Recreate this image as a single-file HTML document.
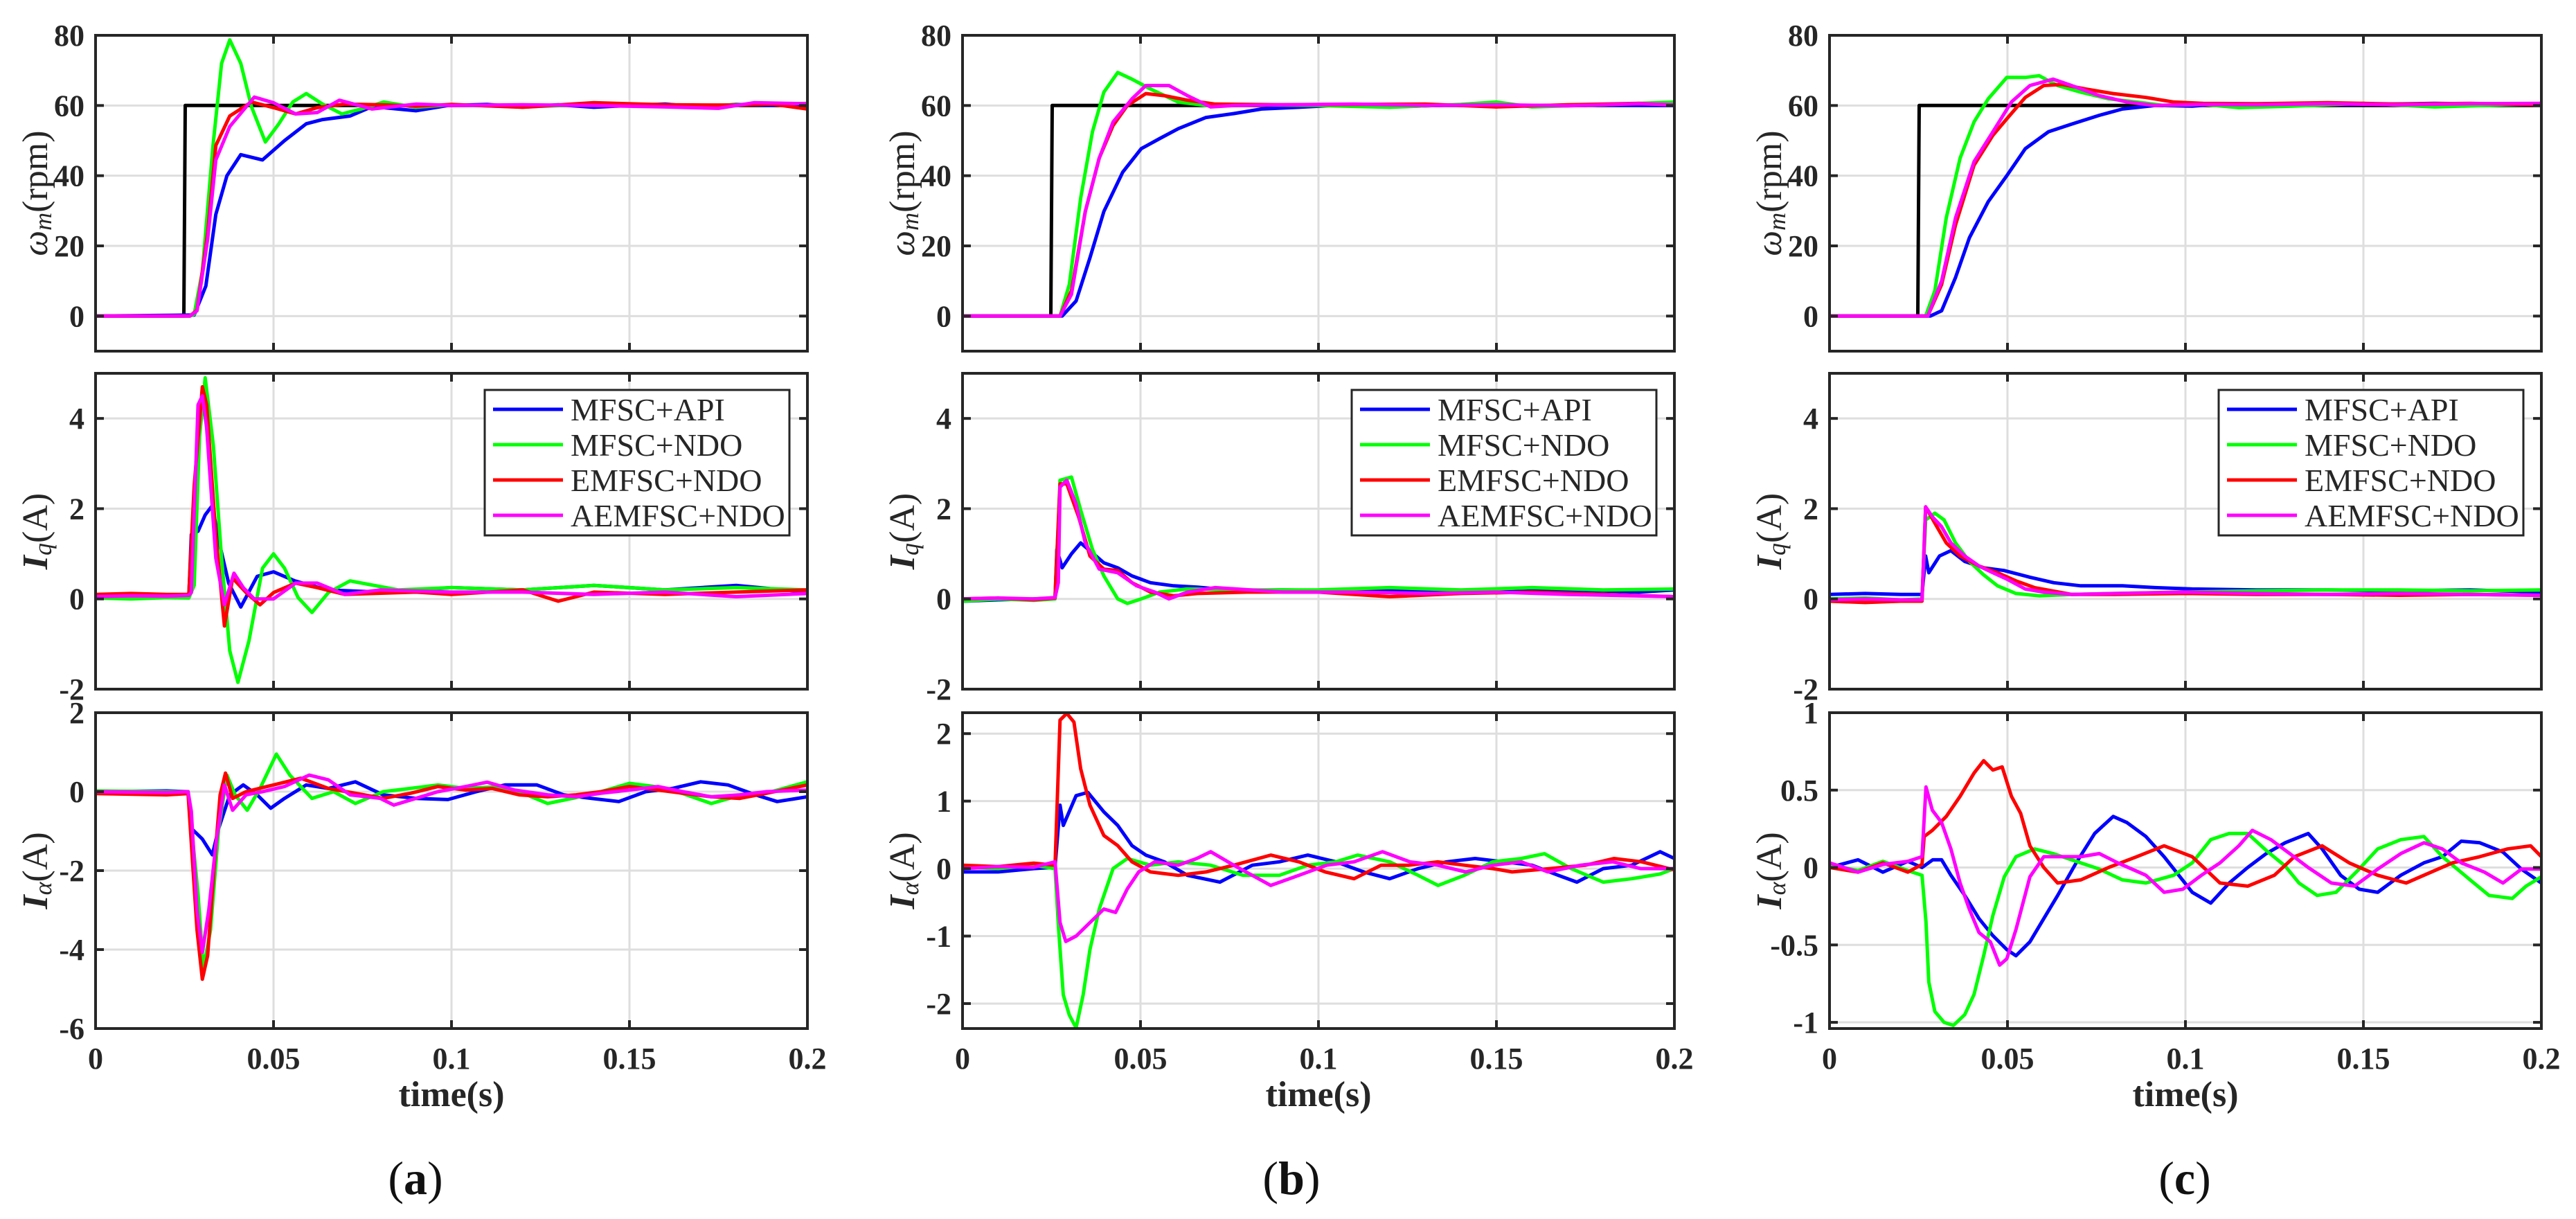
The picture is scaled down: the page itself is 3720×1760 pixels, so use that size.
<!DOCTYPE html>
<html><head><meta charset="utf-8"><style>
html,body{margin:0;padding:0;background:#fff;}
svg{display:block;}
</style></head><body>
<svg id="fig" xmlns="http://www.w3.org/2000/svg" width="3720" height="1760" viewBox="0 0 3720 1760"></svg>
<script>
// ===== DATA =====
const panelLetters = ["a","b","c"];
const xTicks = [0,0.05,0.1,0.15,0.2];
const xTickLabels = ["0","0.05","0.1","0.15","0.2"];
const seriesNames = ["MFSC+API","MFSC+NDO","EMFSC+NDO","AEMFSC+NDO"];
const speedTicks = [0,20,40,60,80];
const iqTicks = [-2,0,2,4];
const iaTicksA = [-6,-4,-2,0,2];
const iaTicksB = [-2,-1,0,1,2];
const iaTicksC = [-1,-0.5,0,0.5,1];
const refSpeed = [[0,0],[0.0248,0],[0.0252,60],[0.2,60]];

// panel (a) speed
const aSpeedBlue = [[0,0],[0.0277,0.3],[0.031,8.6],[0.0338,29],[0.0369,40],[0.0408,46],[0.0469,44.5],[0.0531,50],[0.0592,54.8],[0.0638,56],[0.0715,57],[0.0777,59.7],[0.09,58.5],[0.099,60],[0.11,60.3],[0.12,59.6],[0.13,60.2],[0.14,59.5],[0.15,60],[0.16,60.4],[0.17,59.6],[0.18,60.3],[0.19,60.1],[0.2,60.5]];
const aSpeedGreen = [[0,0],[0.0265,0],[0.0277,0.5],[0.03,12.7],[0.033,48.6],[0.0354,72],[0.0377,78.7],[0.0408,72],[0.0438,59.7],[0.0477,49.6],[0.0515,54.8],[0.0554,61],[0.0592,63.4],[0.0638,60.4],[0.0692,57.6],[0.0746,59],[0.081,61],[0.09,59.5],[0.1,60.2],[0.12,59.6],[0.14,60.3],[0.16,59.7],[0.18,60.2],[0.2,60.6]];
const aSpeedRed = [[0,0],[0.0265,0],[0.0285,1.7],[0.0315,23.8],[0.0338,48.6],[0.0377,57],[0.0438,61],[0.05,59.4],[0.0562,57.6],[0.0623,59.4],[0.07,60.4],[0.08,60.2],[0.09,59.8],[0.1,60.3],[0.12,59.5],[0.14,60.8],[0.16,60.2],[0.18,60.1],[0.19,60.4],[0.2,59]];
const aSpeedMag = [[0,0],[0.0265,0],[0.0285,1.5],[0.0315,22],[0.0338,44.5],[0.0377,54],[0.0446,62.4],[0.05,60.8],[0.0562,57.6],[0.0623,58],[0.0685,61.5],[0.0777,59],[0.09,60.4],[0.1,60],[0.12,60.2],[0.14,60],[0.16,59.6],[0.175,59.2],[0.185,60.8],[0.2,60.5]];
// panel (a) Iq
const aIqBlue = [[0,0.05],[0.01,0.1],[0.02,0.05],[0.0262,0.05],[0.0269,1.43],[0.0288,1.5],[0.0308,1.86],[0.0328,2.07],[0.0346,1.3],[0.0374,0.35],[0.0408,-0.18],[0.0454,0.5],[0.05,0.6],[0.056,0.4],[0.065,0.2],[0.08,0.15],[0.1,0.25],[0.12,0.2],[0.14,0.3],[0.16,0.2],[0.18,0.3],[0.2,0.15]];
const aIqGreen = [[0,0.02],[0.01,0],[0.02,0.03],[0.0262,0.02],[0.0277,0.3],[0.0292,3.6],[0.0308,4.9],[0.0331,3.4],[0.0354,0.9],[0.0377,-1.15],[0.04,-1.85],[0.0431,-0.93],[0.0469,0.68],[0.05,1.0],[0.0531,0.68],[0.0569,0.03],[0.0608,-0.3],[0.0654,0.14],[0.0715,0.4],[0.085,0.2],[0.1,0.25],[0.12,0.2],[0.14,0.3],[0.16,0.2],[0.18,0.25],[0.2,0.2]];
const aIqRed = [[0,0.1],[0.01,0.12],[0.02,0.1],[0.0262,0.1],[0.0277,2.5],[0.03,4.7],[0.0312,4.3],[0.0338,1.4],[0.0362,-0.6],[0.0385,0.46],[0.0423,0.14],[0.0462,-0.13],[0.05,0.14],[0.0562,0.35],[0.0623,0.25],[0.07,0.1],[0.09,0.15],[0.1,0.1],[0.12,0.2],[0.13,-0.05],[0.14,0.15],[0.16,0.1],[0.18,0.15],[0.2,0.2]];
const aIqMag = [[0,0.05],[0.01,0.07],[0.02,0.06],[0.0262,0.08],[0.0269,0.14],[0.0288,4.3],[0.03,4.5],[0.0312,3.8],[0.0338,0.9],[0.0362,-0.13],[0.0389,0.57],[0.0415,0.25],[0.0446,0],[0.05,0],[0.0562,0.35],[0.0623,0.35],[0.07,0.1],[0.08,0.2],[0.1,0.15],[0.12,0.15],[0.14,0.1],[0.16,0.15],[0.18,0.05],[0.2,0.12]];
// panel (a) Ia
const aIaBlue = [[0,0],[0.02,0.02],[0.026,0],[0.0269,-0.93],[0.03,-1.2],[0.0328,-1.6],[0.0346,-0.93],[0.0377,-0.08],[0.0415,0.17],[0.0454,-0.08],[0.0492,-0.42],[0.0531,-0.17],[0.0592,0.17],[0.0654,0.08],[0.073,0.25],[0.0808,-0.08],[0.09,-0.17],[0.099,-0.2],[0.107,0],[0.115,0.17],[0.124,0.17],[0.1315,-0.08],[0.1392,-0.17],[0.147,-0.25],[0.1546,0],[0.162,0.08],[0.17,0.25],[0.1777,0.17],[0.1854,-0.08],[0.1915,-0.25],[0.2,-0.13]];
const aIaGreen = [[0,0.02],[0.02,0],[0.026,0],[0.0288,-2.6],[0.0303,-4.5],[0.0323,-3.5],[0.0346,-0.93],[0.0369,0.42],[0.0392,-0.08],[0.0426,-0.47],[0.0462,0.08],[0.0508,0.95],[0.0546,0.42],[0.0608,-0.17],[0.0669,0],[0.073,-0.3],[0.0808,0],[0.09,0.1],[0.0962,0.17],[0.104,0.08],[0.112,0.12],[0.119,0],[0.127,-0.3],[0.135,-0.15],[0.142,0],[0.15,0.21],[0.158,0.12],[0.165,-0.05],[0.173,-0.3],[0.18,-0.12],[0.188,-0.05],[0.2,0.25]];
const aIaRed = [[0,-0.05],[0.02,-0.08],[0.026,-0.05],[0.0285,-3.5],[0.03,-4.75],[0.0315,-4.15],[0.0334,-1.8],[0.035,-0.08],[0.0365,0.47],[0.0385,-0.17],[0.0423,0],[0.05,0.17],[0.0577,0.34],[0.0654,0.08],[0.073,-0.04],[0.0808,-0.17],[0.0885,-0.04],[0.0962,0.13],[0.104,0.04],[0.1115,0.08],[0.119,-0.08],[0.127,-0.13],[0.135,-0.08],[0.142,0],[0.15,0.13],[0.158,0.04],[0.165,-0.04],[0.173,-0.13],[0.181,-0.17],[0.1885,-0.04],[0.2,0.17]];
const aIaMag = [[0,0],[0.02,-0.02],[0.026,0],[0.0269,-0.5],[0.0285,-3],[0.03,-4.07],[0.0318,-3],[0.0338,-1.35],[0.0362,0.17],[0.0385,-0.47],[0.0423,-0.08],[0.0469,0],[0.0531,0.13],[0.06,0.42],[0.0654,0.3],[0.0715,-0.08],[0.08,-0.17],[0.0838,-0.34],[0.09,-0.17],[0.0962,0],[0.104,0.13],[0.11,0.24],[0.1177,0.04],[0.127,-0.08],[0.135,-0.13],[0.142,-0.04],[0.15,0.04],[0.158,0.13],[0.165,0],[0.173,-0.13],[0.181,-0.08],[0.1885,0],[0.2,0.04]];

// panel (b) speed
const bSpeedBlue = [[0,0],[0.0280,0],[0.0319,4.3],[0.0358,16.6],[0.0397,29.8],[0.045,41],[0.0502,47.7],[0.0554,50.6],[0.0606,53.4],[0.0684,56.6],[0.0762,57.7],[0.084,59],[0.0945,59.5],[0.104,60],[0.12,59.6],[0.14,60.2],[0.16,59.8],[0.18,60.1],[0.2,60]];
const bSpeedGreen = [[0,0],[0.0274,0],[0.03,9],[0.0332,33.6],[0.0365,52.5],[0.0397,63.8],[0.0436,69.4],[0.0476,67.5],[0.0528,64.7],[0.0606,61],[0.0684,60],[0.08,60.2],[0.1,60],[0.12,59.5],[0.14,60.3],[0.15,61],[0.16,59.6],[0.18,60.2],[0.2,61]];
const bSpeedRed = [[0,0],[0.0274,0],[0.0306,7.2],[0.0345,29.8],[0.0384,45],[0.0423,54.3],[0.0463,60],[0.0515,63.4],[0.0567,62.8],[0.0632,61.5],[0.0710,60.4],[0.09,60.2],[0.11,60.3],[0.13,60.4],[0.15,59.6],[0.17,60.2],[0.19,60.6],[0.2,60.1]];
const bSpeedMag = [[0,0],[0.0274,0],[0.0306,6.2],[0.0345,29.8],[0.0384,45],[0.0423,55.3],[0.0476,61.9],[0.0515,65.7],[0.058,65.7],[0.0632,62.8],[0.0697,59.6],[0.0762,60],[0.09,60.2],[0.11,60.4],[0.13,60],[0.15,60.2],[0.17,59.9],[0.19,60.5],[0.2,60.2]];
// panel (b) Iq
const bIqBlue = [[0,-0.05],[0.01,-0.02],[0.02,0],[0.026,0.02],[0.0265,1.1],[0.028,0.69],[0.0306,1.0],[0.0332,1.24],[0.0365,1.02],[0.0397,0.8],[0.0436,0.69],[0.0476,0.51],[0.0528,0.36],[0.0593,0.29],[0.066,0.26],[0.076,0.19],[0.09,0.2],[0.11,0.18],[0.13,0.2],[0.15,0.15],[0.17,0.2],[0.19,0.15],[0.2,0.2]];
const bIqGreen = [[0,-0.05],[0.01,0],[0.02,-0.03],[0.026,0],[0.0274,2.63],[0.0306,2.7],[0.0332,1.97],[0.0365,1.1],[0.0397,0.51],[0.0436,0],[0.0463,-0.1],[0.0502,0],[0.0554,0.15],[0.063,0.22],[0.08,0.2],[0.1,0.2],[0.12,0.25],[0.14,0.2],[0.16,0.25],[0.18,0.2],[0.2,0.22]];
const bIqRed = [[0,0],[0.01,0.02],[0.02,-0.02],[0.026,0.02],[0.0274,2.55],[0.0293,2.55],[0.0326,1.82],[0.0358,0.95],[0.0397,0.66],[0.0436,0.63],[0.0476,0.36],[0.0528,0.15],[0.0593,0.07],[0.066,0.12],[0.08,0.15],[0.1,0.15],[0.12,0.05],[0.14,0.12],[0.16,0.15],[0.18,0.1],[0.2,0.05]];
const bIqMag = [[0,0],[0.01,0.02],[0.02,0],[0.026,0.03],[0.0269,0.36],[0.0274,2.48],[0.0293,2.63],[0.0319,2.1],[0.0345,1.24],[0.0384,0.66],[0.0436,0.58],[0.0489,0.29],[0.054,0.15],[0.058,0],[0.0632,0.15],[0.0710,0.25],[0.09,0.15],[0.11,0.15],[0.13,0.12],[0.15,0.15],[0.17,0.1],[0.2,0.05]];
// panel (b) Ia
const bIaBlue = [[0,-0.05],[0.01,-0.05],[0.02,0],[0.026,0.02],[0.0274,0.94],[0.0283,0.64],[0.0319,1.08],[0.0352,1.13],[0.0397,0.84],[0.0436,0.64],[0.0476,0.34],[0.0515,0.2],[0.0567,0.1],[0.0632,-0.1],[0.0723,-0.2],[0.0814,0.05],[0.089,0.1],[0.097,0.2],[0.1049,0.1],[0.1127,-0.05],[0.12,-0.15],[0.128,0],[0.136,0.1],[0.1440,0.15],[0.152,0.1],[0.16,0.05],[0.1674,-0.1],[0.1726,-0.2],[0.18,0],[0.188,0.05],[0.196,0.25],[0.2,0.15]];
const bIaGreen = [[0,0.02],[0.01,0],[0.02,0.05],[0.026,0],[0.027,-0.9],[0.0283,-1.87],[0.03,-2.17],[0.0319,-2.36],[0.0339,-1.87],[0.0358,-1.2],[0.0384,-0.6],[0.0423,0],[0.0463,0.15],[0.0528,0.05],[0.0606,0.1],[0.0697,0.05],[0.0788,-0.1],[0.089,-0.1],[0.097,0.05],[0.1049,0.1],[0.111,0.2],[0.12,0.1],[0.128,-0.1],[0.1336,-0.25],[0.141,-0.1],[0.149,0.1],[0.157,0.15],[0.1635,0.22],[0.171,0],[0.18,-0.2],[0.188,-0.15],[0.196,-0.08],[0.2,0]];
const bIaRed = [[0,0.05],[0.01,0.03],[0.02,0.08],[0.026,0.05],[0.0274,2.2],[0.0293,2.3],[0.0313,2.17],[0.0332,1.48],[0.0358,0.94],[0.0397,0.49],[0.0436,0.34],[0.0476,0.1],[0.0528,-0.05],[0.0606,-0.1],[0.0684,-0.05],[0.0762,0.05],[0.0866,0.2],[0.0945,0.1],[0.1019,-0.05],[0.11,-0.15],[0.1176,0.05],[0.1254,0.05],[0.1335,0.1],[0.141,0.05],[0.149,0],[0.1544,-0.05],[0.165,0],[0.175,0.05],[0.183,0.15],[0.1908,0.1],[0.2,-0.02]];
const bIaMag = [[0,0],[0.01,0.03],[0.02,0.02],[0.026,0.1],[0.0274,-0.8],[0.029,-1.08],[0.0319,-1.0],[0.0358,-0.8],[0.0397,-0.6],[0.043,-0.65],[0.0463,-0.3],[0.0495,-0.05],[0.054,0.1],[0.0606,0.05],[0.0658,0.15],[0.0697,0.25],[0.0762,0.05],[0.0814,-0.1],[0.0866,-0.25],[0.0945,-0.1],[0.1023,0.05],[0.11,0.1],[0.118,0.25],[0.1257,0.1],[0.1335,0.05],[0.1414,-0.05],[0.149,0.05],[0.157,0.1],[0.1645,-0.05],[0.1736,0.05],[0.1827,0.1],[0.1905,0],[0.2,0]];

// panel (c) speed
const cSpeedBlue = [[0,0],[0.0283,0],[0.0315,1.5],[0.0354,11],[0.0393,22.3],[0.0446,32.6],[0.0498,40],[0.055,47.7],[0.0615,52.5],[0.068,54.7],[0.0758,57.2],[0.0823,59],[0.0915,60],[0.1019,59.8],[0.11,60.5],[0.13,60.2],[0.15,60.3],[0.17,60.6],[0.19,60.4],[0.2,60.2]];
const cSpeedGreen = [[0,0],[0.0270,0],[0.0296,7.2],[0.0328,28],[0.0367,45],[0.0406,55.3],[0.0446,61.9],[0.0498,68],[0.055,68],[0.0589,68.5],[0.0641,65.7],[0.0706,63.8],[0.0784,61.9],[0.0863,61],[0.094,60],[0.105,60.3],[0.115,59.4],[0.13,59.8],[0.15,60.6],[0.17,59.6],[0.19,60.2],[0.2,60.4]];
const cSpeedRed = [[0,0],[0.0276,0],[0.0315,9],[0.0354,26],[0.0406,43],[0.0459,51.5],[0.0498,56.2],[0.055,62.3],[0.0602,65.7],[0.0654,66],[0.0719,64.7],[0.0797,63.4],[0.0889,62.3],[0.0967,61],[0.105,60.6],[0.12,60.5],[0.14,60.8],[0.16,60.4],[0.18,60.6],[0.2,60.2]];
const cSpeedMag = [[0,0],[0.0276,0],[0.0315,10],[0.0354,28],[0.0406,44],[0.0459,52.5],[0.0511,61],[0.0563,65.7],[0.0628,67.5],[0.068,65.7],[0.0758,62.8],[0.0836,61],[0.0915,60],[0.105,60.3],[0.12,60.2],[0.14,60.5],[0.16,60.2],[0.18,60.5],[0.2,60.6]];
// panel (c) Iq
const cIqBlue = [[0,0.1],[0.01,0.12],[0.02,0.1],[0.026,0.1],[0.027,0.95],[0.0279,0.58],[0.0309,0.95],[0.0341,1.07],[0.038,0.83],[0.0433,0.69],[0.049,0.63],[0.0563,0.48],[0.063,0.36],[0.0706,0.29],[0.0823,0.29],[0.0915,0.25],[0.1019,0.22],[0.12,0.2],[0.14,0.2],[0.16,0.18],[0.18,0.2],[0.2,0.15]];
const cIqGreen = [[0,0],[0.01,0.02],[0.02,-0.02],[0.026,0],[0.027,1.75],[0.0296,1.9],[0.0322,1.75],[0.0354,1.24],[0.0393,0.83],[0.0432,0.54],[0.0472,0.29],[0.0524,0.12],[0.059,0.07],[0.068,0.1],[0.08,0.12],[0.1,0.15],[0.12,0.18],[0.14,0.2],[0.16,0.2],[0.18,0.18],[0.2,0.2]];
const cIqRed = [[0,-0.05],[0.01,-0.08],[0.02,-0.05],[0.026,-0.05],[0.027,2.04],[0.0296,1.68],[0.0328,1.24],[0.0367,0.95],[0.042,0.73],[0.0472,0.58],[0.0524,0.4],[0.0576,0.25],[0.068,0.1],[0.08,0.1],[0.1,0.12],[0.12,0.1],[0.14,0.1],[0.16,0.08],[0.18,0.1],[0.2,0.08]];
const cIqMag = [[0,-0.02],[0.01,0],[0.02,-0.02],[0.026,-0.02],[0.027,2.04],[0.0289,1.82],[0.0315,1.6],[0.0341,1.24],[0.038,0.95],[0.042,0.73],[0.0459,0.58],[0.0498,0.44],[0.055,0.22],[0.0602,0.15],[0.068,0.1],[0.08,0.12],[0.1,0.15],[0.12,0.12],[0.14,0.1],[0.16,0.12],[0.18,0.1],[0.2,0.08]];
// panel (c) Ia
const cIaBlue = [[0,0],[0.008,0.05],[0.015,-0.03],[0.022,0.04],[0.026,0],[0.029,0.05],[0.0315,0.05],[0.0341,-0.05],[0.038,-0.18],[0.042,-0.33],[0.0459,-0.44],[0.0498,-0.53],[0.0524,-0.57],[0.0563,-0.48],[0.0602,-0.33],[0.0641,-0.18],[0.0693,0.03],[0.0745,0.22],[0.0797,0.33],[0.0836,0.29],[0.0889,0.2],[0.094,0.07],[0.1019,-0.16],[0.1071,-0.23],[0.1123,-0.1],[0.1175,0],[0.1227,0.09],[0.128,0.16],[0.1345,0.22],[0.1384,0.12],[0.1436,-0.05],[0.1488,-0.14],[0.154,-0.16],[0.1605,-0.05],[0.167,0.03],[0.1722,0.07],[0.1775,0.17],[0.1827,0.16],[0.1892,0.1],[0.1944,-0.01],[0.2,-0.1]];
const cIaGreen = [[0,0.02],[0.008,-0.02],[0.015,0.04],[0.022,-0.02],[0.026,-0.05],[0.0271,-0.35],[0.0279,-0.74],[0.0296,-0.93],[0.0322,-1.0],[0.0348,-1.02],[0.038,-0.95],[0.0406,-0.82],[0.0433,-0.57],[0.0459,-0.31],[0.0491,-0.06],[0.0524,0.07],[0.0576,0.12],[0.0628,0.09],[0.068,0.05],[0.0758,-0.01],[0.0823,-0.08],[0.0889,-0.1],[0.0967,-0.05],[0.1019,0.03],[0.1071,0.18],[0.1123,0.22],[0.1175,0.22],[0.1227,0.11],[0.128,0.01],[0.1319,-0.1],[0.137,-0.18],[0.1423,-0.16],[0.1488,-0.01],[0.154,0.12],[0.1605,0.18],[0.167,0.2],[0.1722,0.07],[0.18,-0.08],[0.1853,-0.18],[0.1918,-0.2],[0.1957,-0.12],[0.2,-0.06]];
const cIaRed = [[0,0],[0.008,-0.03],[0.015,0.03],[0.022,-0.03],[0.026,0.02],[0.0266,0.2],[0.0289,0.24],[0.0328,0.33],[0.0367,0.46],[0.0406,0.61],[0.0433,0.69],[0.0459,0.63],[0.0485,0.65],[0.0511,0.46],[0.0537,0.35],[0.0563,0.14],[0.0602,0],[0.0641,-0.1],[0.0706,-0.08],[0.0784,0],[0.0863,0.07],[0.094,0.14],[0.1019,0.07],[0.1097,-0.1],[0.1175,-0.12],[0.125,-0.05],[0.1306,0.07],[0.1384,0.14],[0.146,0.03],[0.154,-0.05],[0.162,-0.1],[0.167,-0.05],[0.175,0.03],[0.1827,0.07],[0.1905,0.12],[0.1970,0.14],[0.2,0.07]];
const cIaMag = [[0,0.03],[0.008,-0.03],[0.015,0.02],[0.022,0.04],[0.026,0.07],[0.0271,0.52],[0.0289,0.37],[0.0315,0.29],[0.0341,0.12],[0.0367,-0.1],[0.0393,-0.27],[0.042,-0.42],[0.0452,-0.48],[0.0478,-0.63],[0.0498,-0.59],[0.0524,-0.4],[0.0563,-0.06],[0.0602,0.07],[0.0654,0.07],[0.0706,0.07],[0.0758,0.09],[0.081,0.03],[0.0889,-0.05],[0.094,-0.16],[0.0993,-0.14],[0.1045,-0.05],[0.1097,0.03],[0.115,0.14],[0.1188,0.24],[0.124,0.18],[0.1293,0.09],[0.1345,0],[0.141,-0.1],[0.1475,-0.12],[0.154,-0.01],[0.1605,0.09],[0.167,0.16],[0.1722,0.12],[0.1775,0.03],[0.184,-0.03],[0.1892,-0.1],[0.1944,-0.01],[0.2,-0.01]];

// ===== LAYOUT =====
const NS = "http://www.w3.org/2000/svg";
const svg = document.getElementById("fig");
const panelLeft = [138,1390,2642];
const plotW = 1028;
const rowTop = [51,539,1029];
const plotH = 456;
const colors = ["#0000ff","#00ff00","#ff0000","#ff00ff"];
const serif = '"Liberation Serif", "DejaVu Serif", serif';

function mk(tag, attrs, parent){
  const e = document.createElementNS(NS, tag);
  for (const k in attrs) e.setAttribute(k, attrs[k]);
  (parent||svg).appendChild(e);
  return e;
}

const panels = [
  {rows:[
    {min:-10,max:80,ticks:speedTicks,series:[aSpeedBlue,aSpeedGreen,aSpeedRed,aSpeedMag],ref:true,label:"speed"},
    {min:-2,max:5,ticks:iqTicks,series:[aIqBlue,aIqGreen,aIqRed,aIqMag],legend:true,label:"iq"},
    {min:-6,max:2,ticks:iaTicksA,series:[aIaBlue,aIaGreen,aIaRed,aIaMag],label:"ia"}]},
  {rows:[
    {min:-10,max:80,ticks:speedTicks,series:[bSpeedBlue,bSpeedGreen,bSpeedRed,bSpeedMag],ref:true,label:"speed"},
    {min:-2,max:5,ticks:iqTicks,series:[bIqBlue,bIqGreen,bIqRed,bIqMag],legend:true,label:"iq"},
    {min:-2.37,max:2.31,ticks:iaTicksB,series:[bIaBlue,bIaGreen,bIaRed,bIaMag],label:"ia"}]},
  {rows:[
    {min:-10,max:80,ticks:speedTicks,series:[cSpeedBlue,cSpeedGreen,cSpeedRed,cSpeedMag],ref:true,label:"speed"},
    {min:-2,max:5,ticks:iqTicks,series:[cIqBlue,cIqGreen,cIqRed,cIqMag],legend:true,label:"iq"},
    {min:-1.04,max:1.0,ticks:iaTicksC,series:[cIaBlue,cIaGreen,cIaRed,cIaMag],label:"ia"}]}
];

panels.forEach((p, pi) => {
  const L = panelLeft[pi];
  const xs = t => L + t/0.2*plotW;
  p.rows.forEach((r, ri) => {
    const T = rowTop[ri], B = T + plotH;
    const ys = v => B - (v - r.min)/(r.max - r.min)*plotH;
    const g = mk("g", {});
    
    
    // grid
    xTicks.forEach(t => {
      if (t === 0 || t === 0.2) return;
      const gl = mk("line", {x1:xs(t),x2:xs(t),y1:T,y2:B,stroke:"#dedede","stroke-width":3}, g);
      
      
    });
    r.ticks.forEach(v => {
      const yy = ys(v);
      if (yy < T - 0.5 || yy > B + 0.5) return;
      const gl = mk("line", {x1:L,x2:L+plotW,y1:yy,y2:yy,stroke:"#dedede","stroke-width":3}, g);
      
      
    });
    // clip
    const cid = "clip" + pi + ri;
    const cp = mk("clipPath", {id:cid}, g);
    mk("rect", {x:L, y:T, width:plotW, height:plotH}, cp);
    const lg = mk("g", {"clip-path":"url(#"+cid+")"}, g);
    function drawLine(data, color, w, name){
      const d = data.map((pt,i)=>(i?"L":"M")+xs(pt[0]).toFixed(1)+","+ys(pt[1]).toFixed(1)).join(" ");
      const pth = mk("path", {d:d, fill:"none", stroke:color, "stroke-width":w, "stroke-linejoin":"round", "stroke-linecap":"round"}, lg);
      
      
    }
    if (r.ref) drawLine(refSpeed, "#000000", 5, "reference-speed-line");
    r.series.forEach((s, si) => drawLine(s, colors[si], 5, "series-" + seriesNames[si].toLowerCase().replace("+","-")));
    // ticks
    xTicks.forEach(t => {
      if (t === 0 || t === 0.2) return;
      mk("line", {x1:xs(t),x2:xs(t),y1:B,y2:B-12,stroke:"#262626","stroke-width":4}, g);
      mk("line", {x1:xs(t),x2:xs(t),y1:T,y2:T+12,stroke:"#262626","stroke-width":4}, g);
    });
    r.ticks.forEach(v => {
      const yy = ys(v);
      if (yy < T - 0.5 || yy > B + 0.5) return;
      mk("line", {x1:L,x2:L+12,y1:yy,y2:yy,stroke:"#262626","stroke-width":4}, g);
      mk("line", {x1:L+plotW,x2:L+plotW-12,y1:yy,y2:yy,stroke:"#262626","stroke-width":4}, g);
    });
    // frame
    const fr = mk("rect", {x:L, y:T, width:plotW, height:plotH, fill:"none", stroke:"#262626", "stroke-width":4}, g);
    
    
    // y tick labels
    r.ticks.forEach(v => {
      const tl = mk("text", {x:L-16, y:ys(v)+15, "text-anchor":"end", "font-family":serif, "font-weight":"bold", "font-size":44, fill:"#262626"}, g);
      tl.textContent = String(v);
      
      
    });
    // y axis title
    const cy = (T+B)/2, cx = L - 82;
    const yt = mk("text", {x:cx, y:cy, transform:"rotate(-90 "+cx+" "+cy+")", "text-anchor":"middle", "dominant-baseline":"middle", "font-family":serif, "font-size":52, fill:"#262626"}, g);
    
    
    const sym = r.label === "speed" ? "ω" : "I";
    const sub = r.label === "speed" ? "m" : (r.label === "iq" ? "q" : "α");
    const unit = r.label === "speed" ? "(rpm)" : "(A)";
    const s1 = mk("tspan", {"font-style":"italic","font-weight":r.label==="speed"?"normal":"bold"}, yt); s1.textContent = sym;
    const s2 = mk("tspan", {"font-style":"italic","font-size":36, dy:10}, yt); s2.textContent = sub;
    const s3 = mk("tspan", {dy:-10}, yt); s3.textContent = unit;
    // legend
    if (r.legend) {
      const lgx = L + 562, lgy = T + 24;
      const lgg = mk("g", {}, g);
      
      
      mk("rect", {x:lgx, y:lgy, width:440, height:210, fill:"#fff", stroke:"#262626", "stroke-width":3}, lgg);
      seriesNames.forEach((nm, si) => {
        const ey = lgy + 28 + si*51;
        const en = mk("g", {}, lgg);
        
        
        mk("line", {x1:lgx+12, x2:lgx+113, y1:ey, y2:ey, stroke:colors[si], "stroke-width":5}, en);
        const tx = mk("text", {x:lgx+124, y:ey+16, "font-family":serif, "font-size":46, fill:"#262626"}, en);
        tx.textContent = nm;
      });
    }
    // x tick labels on bottom row
    if (ri === 2) {
      xTicks.forEach((t, ti) => {
        const xl = mk("text", {x:xs(t), y:1543, "text-anchor":"middle", "font-family":serif, "font-weight":"bold", "font-size":44, fill:"#262626"}, g);
        xl.textContent = xTickLabels[ti];
        
        
      });
      const xt = mk("text", {x:L+plotW/2, y:1597, "text-anchor":"middle", "font-family":serif, "font-weight":"bold", "font-size":52, fill:"#262626"}, g);
      xt.textContent = "time(s)";
      
      
    }
  });
});
// panel captions
const capX = [600,1865,3155];
capX.forEach((x, i) => {
  const c = mk("text", {x:x, y:1724, "text-anchor":"middle", "font-family":serif, "font-size":68, fill:"#111"});
  
  
  const a = mk("tspan", {}, c); a.textContent = "(";
  const b = mk("tspan", {"font-weight":"bold"}, c); b.textContent = panelLetters[i];
  const d = mk("tspan", {}, c); d.textContent = ")";
});
</script>
</body></html>
